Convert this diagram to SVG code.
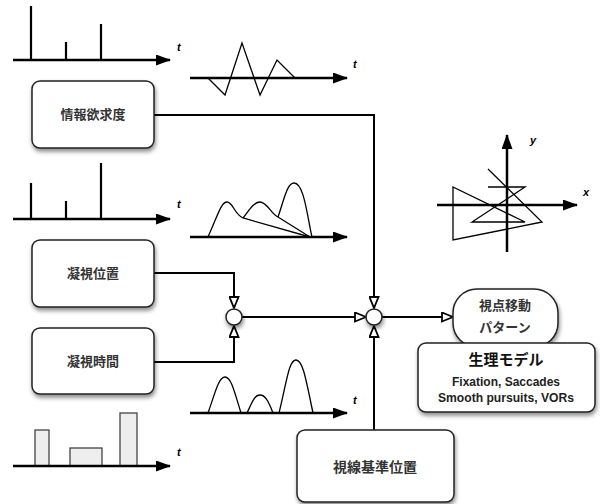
<svg xmlns="http://www.w3.org/2000/svg" width="600" height="504" viewBox="0 0 600 504">
<style>
.box{fill:#fff;stroke:#222;stroke-width:1.5;filter:url(#sh)}
.lbl{font-family:"Noto Sans CJK JP","Liberation Sans",sans-serif;font-weight:bold;font-size:13px;fill:#333;text-anchor:middle}
.en{font-family:"Liberation Sans","Noto Sans",sans-serif;font-weight:bold;font-size:12.5px;fill:#222;text-anchor:middle}
.ax{stroke:#000;stroke-width:2.5;fill:none;marker-end:url(#ah)}
.sp{stroke:#000;stroke-width:2.2;fill:none}
.cv{stroke:#000;stroke-width:1.3;fill:none}
.tl{font-family:"Liberation Sans",sans-serif;font-style:italic;font-weight:bold;font-size:11px;fill:#000}
.cn{stroke:#000;stroke-width:2;fill:none;marker-end:url(#oa)}
.bar{fill:#eee;stroke:#444;stroke-width:1.3}
</style>
<defs>
<filter id="sh" x="-15%" y="-15%" width="135%" height="145%"><feDropShadow dx="1" dy="3" stdDeviation="2" flood-color="#000" flood-opacity="0.45"/></filter>
<marker id="ah" markerWidth="15" markerHeight="11" refX="14" refY="5.5" orient="auto" markerUnits="userSpaceOnUse"><path d="M0,0 L15,5.5 L0,11 z" fill="#000"/></marker>
<marker id="oa" markerWidth="13" markerHeight="11" refX="12" refY="5.5" orient="auto" markerUnits="userSpaceOnUse"><path d="M1,1 L12,5.5 L1,10 z" fill="#fff" stroke="#000" stroke-width="1.8"/></marker>
</defs>
<rect width="600" height="504" fill="#fff"/>

<g id="plot-spikes1">
<line class="ax" x1="13" y1="60" x2="170" y2="60"/>
<path class="sp" d="M31,60V6M66,60V42M101,60V24"/>
<text class="tl" x="177" y="51">t</text>
</g>
<g id="plot-zigzag">
<line class="ax" x1="190" y1="78" x2="347" y2="78"/>
<path class="cv" d="M208,78 L225,95 L242,43 L260,95 L277,60 L295,78"/>
<text class="tl" x="353" y="68">t</text>
</g>
<g id="plot-spikes2">
<line class="ax" x1="13" y1="219" x2="170" y2="219"/>
<path class="sp" d="M31,219V183M66,219V201M101,219V163"/>
<text class="tl" x="177" y="208">t</text>
</g>
<g id="plot-humps1">
<line class="ax" x1="190" y1="237" x2="347" y2="237"/>
<path class="cv" d="M208,237 C218,215 221,202 227,202 C233,202 234,214 243,218 L310,237"/>
<path class="cv" d="M243,218 C250,209 254,202 260,202 C267,202 271,214 278,217 L310,237"/>
<path class="cv" d="M278,217 C284,200 287,183 294,183 C304,183 307,215 312,237"/>
</g>
<g id="plot-xy">
<line class="ax" x1="437" y1="205" x2="577" y2="205"/>
<line class="ax" x1="507" y1="252" x2="507" y2="135"/>
<path class="cv" d="M488,169 L542,222 L453,240 L453,187 L525,222 L472,222 L525,187 L488,187"/>
<text class="tl" x="530" y="144">y</text>
<text class="tl" x="583" y="196">x</text>
</g>
<g id="plot-humps2">
<line class="ax" x1="190" y1="413" x2="347" y2="413"/>
<path class="cv" d="M208,413 C216,390 219,377 225,377 C231,377 234,390 241,413"/>
<path class="cv" d="M247,413 C253,400 255,395 260,395 C265,395 268,400 273,413"/>
<path class="cv" d="M279,413 C287,380 289,360 296,360 C303,360 306,380 313,413"/>
<text class="tl" x="353" y="404">t</text>
</g>
<g id="plot-bars">
<rect class="bar" x="35" y="430" width="14" height="36"/>
<rect class="bar" x="70" y="448" width="32" height="18"/>
<rect class="bar" x="120" y="413" width="17" height="53"/>
<line class="ax" x1="13" y1="466" x2="170" y2="466"/>
<text class="tl" x="177" y="456">t</text>
</g>

<g id="connectors">
<path class="cn" d="M154,115 H374 V308"/>
<path class="cn" d="M154,273 H234 V308"/>
<path class="cn" d="M154,362 H234 V326"/>
<path class="cn" d="M242,317 H366"/>
<path class="cn" d="M374,430 V326"/>
<path class="cn" d="M382,317 H453"/>
</g>

<g id="node-info">
<rect class="box" x="32" y="81" width="122" height="67" rx="8"/>
<text class="lbl" x="93" y="119">情報欲求度</text>
</g>
<g id="node-gazepos">
<rect class="box" x="32" y="240" width="122" height="67" rx="8"/>
<text class="lbl" x="93" y="278">凝視位置</text>
</g>
<g id="node-gazetime">
<rect class="box" x="32" y="328" width="122" height="66" rx="8"/>
<text class="lbl" x="93" y="366">凝視時間</text>
</g>
<g id="node-sum1">
<circle class="box" cx="234" cy="317" r="8"/>
</g>
<g id="node-sum2">
<circle class="box" cx="374" cy="317" r="8"/>
</g>
<g id="node-base">
<rect class="box" x="297" y="430" width="157" height="72" rx="8"/>
<text class="lbl" x="375" y="472" style="font-size:14px">視線基準位置</text>
</g>
<g id="node-pattern">
<rect class="box" x="453" y="289" width="105" height="58" rx="24"/>
<text class="lbl" x="505" y="310">視点移動</text>
<text class="lbl" x="505" y="332">パターン</text>
</g>
<g id="node-physio">
<rect class="box" x="418" y="343" width="177" height="69" rx="8"/>
<text class="lbl" x="506" y="365" style="font-size:15px;fill:#111">生理モデル</text>
<text class="en" x="506" y="386" textLength="108" lengthAdjust="spacingAndGlyphs">Fixation, Saccades</text>
<text class="en" x="506" y="402" textLength="136" lengthAdjust="spacingAndGlyphs">Smooth pursuits, VORs</text>
</g>
</svg>
